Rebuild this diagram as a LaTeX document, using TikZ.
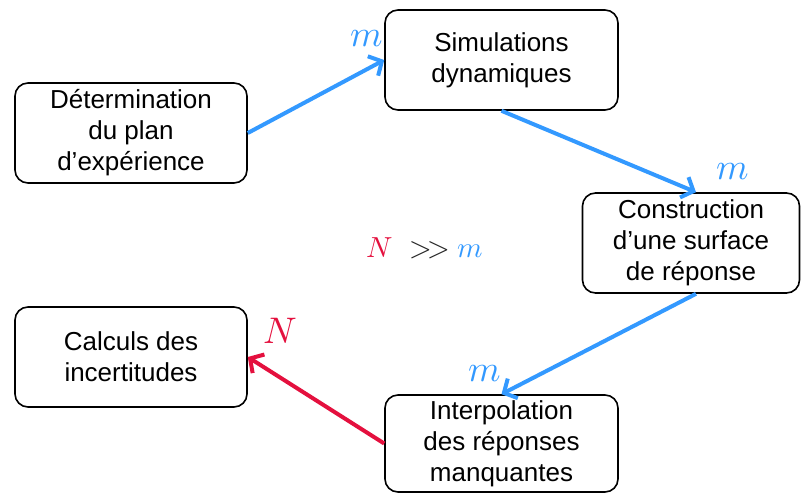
\documentclass[tikz,border=0pt]{standalone}
\usepackage{fontspec}
\setmainfont{Liberation Sans}
\usepackage{unicode-math}
\setmathfont{Latin Modern Math}
\usetikzlibrary{arrows.meta}
\definecolor{flowblue}{RGB}{51,153,255}
\definecolor{flowred}{RGB}{228,16,62}
\begin{document}
\begin{tikzpicture}[x=1pt,y=-1pt,
  box/.style={draw=black,line width=1.6pt,rounded corners=13pt,align=center,
    font=\fontsize{26}{31}\selectfont,inner sep=0pt},
  flow/.style={line width=4pt,-{Straight Barb[length=10pt,width=22pt,line width=4pt]}},
  lbl/.style={inner sep=0pt,font=\fontsize{37}{37}\selectfont}]
\useasboundingbox (0,0) rectangle (801,493);
\node[box,minimum width=232pt,minimum height=100pt] (plan) at (131,133) {Détermination\\du plan\\d’expérience};
\node[box,minimum width=233pt,minimum height=100pt] (simu) at (501.5,60) {Simulations\\dynamiques};
\node[box,minimum width=217pt,minimum height=100pt] (surf) at (691,243) {Construction\\d’une surface\\de réponse};
\node[box,minimum width=232pt,minimum height=100pt] (calc) at (131,357) {Calculs des\\incertitudes};
\node[box,minimum width=233pt,minimum height=97pt] (interp) at (501.5,443.5) {Interpolation\\des réponses\\manquantes};
\draw[flow,flowblue] (plan.east) -- (simu.west);
\draw[flow,flowblue] (simu.south) -- ([xshift=5pt]surf.north);
\draw[flow,flowblue] ([xshift=5pt]surf.south) -- (interp.north);
\draw[flow,flowred] (interp.west) -- (calc.east);
\node[lbl,text=flowblue] (m1) at (367,39) {$m$};
\node[lbl,text=flowblue] (m2) at (733,172) {$m$};
\node[lbl,text=flowblue] (m3) at (485,374) {$m$};
\node[lbl,text=flowred] (n1) at (280,331) {$N$};
\node[inner sep=0pt,font=\fontsize{29}{29}\selectfont] (rel) at (425,248)
  {$\textcolor{flowred}{N}\;\;\textcolor{black!85}{>\!>}\;\textcolor{flowblue}{m}$};
\end{tikzpicture}
\end{document}
